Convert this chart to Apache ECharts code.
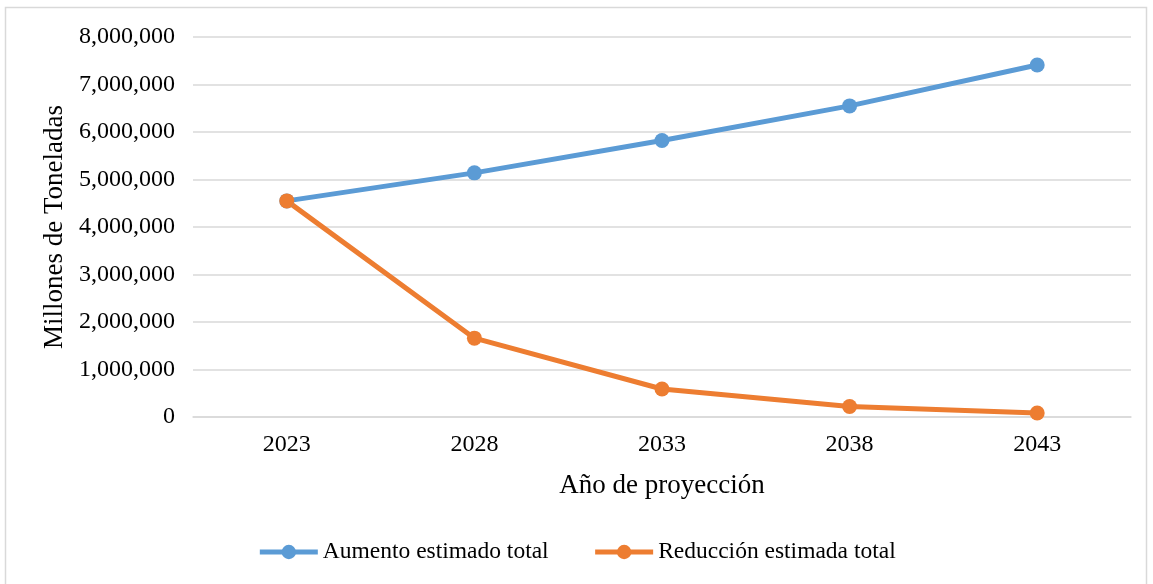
<!DOCTYPE html>
<html><head><meta charset="utf-8">
<script src="https://cdn.jsdelivr.net/npm/echarts@6/dist/echarts.min.js"></script>
<style>html,body{margin:0;padding:0;background:#fff}#c{width:1153px;height:584px}</style>
</head><body><div id="c"></div>
<script>
const categories = ['2023','2028','2033','2038','2043'];
const aumento = [4550000, 5140000, 5820000, 6550000, 7410000];
const reduccion = [4550000, 1660000, 590000, 220000, 85000];
const seriesNames = ['Aumento estimado total','Reducción estimada total'];
const font = 'Liberation Serif';
const chart = echarts.init(document.getElementById('c'));
chart.setOption({
  animation:false,
  textStyle:{fontFamily:font,color:'#000'},
  graphic:[{type:'rect',shape:{x:5.5,y:7.5,width:1141,height:590},style:{fill:'none',stroke:'#d9d9d9',lineWidth:1.5},silent:true}],
  grid:{left:193,right:22,top:37,bottom:167},
  legend:{bottom:15,left:'center',itemWidth:58,itemHeight:18,itemGap:44,
    lineStyle:{width:5},
    textStyle:{fontFamily:font,fontSize:23.5,color:'#000'},
    data:seriesNames},
  xAxis:{type:'category',data:categories,boundaryGap:true,
    axisLine:{lineStyle:{color:'#d9d9d9',width:1.5}},axisTick:{show:false},
    axisLabel:{fontFamily:font,fontSize:24,color:'#000',margin:16},
    name:'Año de proyección',nameLocation:'middle',nameGap:55,
    nameTextStyle:{fontFamily:font,fontSize:27,color:'#000'}},
  yAxis:{type:'value',min:0,max:8000000,interval:1000000,
    axisLine:{show:false},axisTick:{show:false},
    splitLine:{lineStyle:{color:'#d9d9d9',width:1.5}},
    axisLabel:{fontFamily:font,fontSize:24,color:'#000',margin:18,
      formatter:v=>v.toLocaleString('en-US')},
    name:'Millones de Toneladas',nameLocation:'middle',nameGap:124,
    nameTextStyle:{fontFamily:font,fontSize:27,color:'#000'}},
  series:[
    {name:seriesNames[0],type:'line',data:aumento,symbol:'circle',symbolSize:15,
      lineStyle:{color:'#5b9bd5',width:5},itemStyle:{color:'#5b9bd5'}},
    {name:seriesNames[1],type:'line',data:reduccion,symbol:'circle',symbolSize:15,
      lineStyle:{color:'#ed7d31',width:5},itemStyle:{color:'#ed7d31'}}
  ]
});
</script></body></html>
